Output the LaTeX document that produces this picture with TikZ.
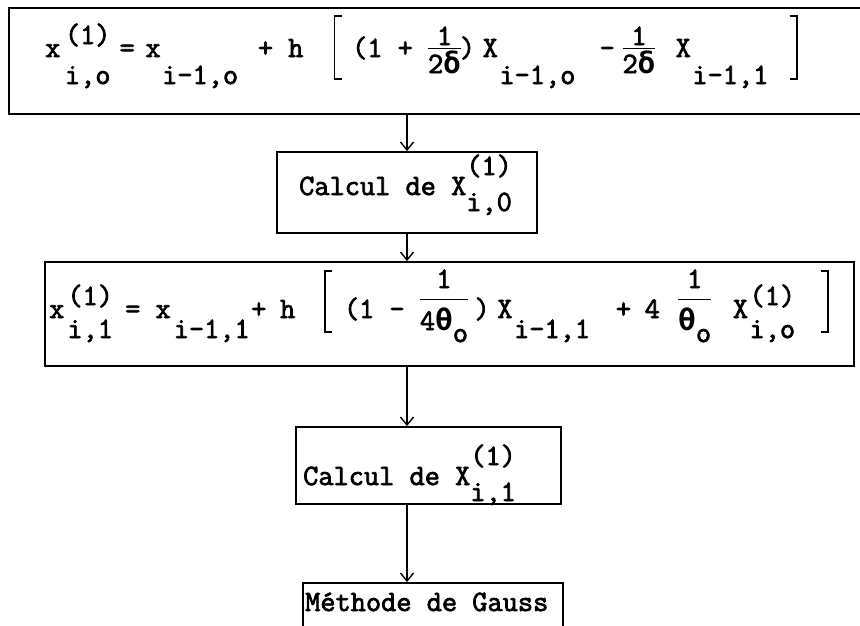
\documentclass[tikz,border=0pt]{standalone}
\usepackage{fontspec}
\usetikzlibrary{arrows.meta}
\newfontfamily\tw{Latin Modern Mono}[FakeBold=2.5]
\newfontfamily\grk{DejaVu Sans Mono}
\newcommand\gd{{\grk\bfseries δ}}
\newcommand\gt{{\grk\bfseries θ}}
\newlength\supup \newlength\subdn
\newlength\frup \newlength\frbar \newlength\frdn
\newcommand\ud[2]{\rlap{\raisebox{\supup}{#1}}\raisebox{-\subdn}{#2}}
\newcommand\lw[1]{\raisebox{-\subdn}{#1}}
% place #2 at #1 character widths from the start of the line
\newcommand\at[2]{\rlap{\hspace*{#1\wd9}#2}}
\newcommand\fr[2]{\setbox0\hbox{#2}\rlap{\makebox[\wd0]{\raisebox{\frup}{#1}}}\rlap{\rule[\frbar]{\wd0}{1.2pt}}\raisebox{-\frdn}{\box0}}
\newcommand\lbrk[2]{\vrule height #1 depth #2 width 1.6pt\kern-1.6pt\vrule height #1 depth -\dimexpr#1-1.6pt\relax width 8pt\kern-8pt\vrule height -\dimexpr#2-1.6pt\relax depth #2 width 8pt}
\newcommand\rbrk[2]{\vrule height #1 depth -\dimexpr#1-1.6pt\relax width 8pt\kern-8pt\vrule height -\dimexpr#2-1.6pt\relax depth #2 width 8pt\kern-1.6pt\vrule height #1 depth #2 width 1.6pt}
\tikzset{
  box/.style={draw, line width=1.8pt, inner sep=0pt},
  txt/.style={inner sep=0pt, anchor=base west, font={\fontsize{29.5}{35}\selectfont\tw}},
  arr/.style={line width=1.4pt, -{Straight Barb[length=8pt,width=13pt]}}
}
\begin{document}
\begin{tikzpicture}[x=1pt,y=-1pt]
\fill[white] (0,0) rectangle (860,625);
\useasboundingbox (0,0) rectangle (860,625);
% boxes
\node[box, minimum width=871pt, minimum height=106pt] (b1) at (444.5,61) {};
\node[box, minimum width=260pt, minimum height=81pt] (b2) at (407,192.5) {};
\node[box, minimum width=809pt, minimum height=104pt] (b3) at (449.5,314) {};
\node[box, minimum width=265pt, minimum height=77pt] (b4) at (428.5,465.5) {};
\node[box, minimum width=260pt, minimum height=77pt] (b5) at (433,621.5) {};
% first formula
\node[txt] (f1) at (45,57) {\setbox9\hbox{x}\setlength\supup{13pt}\setlength\subdn{27pt}%
  \setlength\frup{12pt}\setlength\frbar{8pt}\setlength\frdn{16pt}%
  \at{0}{x}\at{1.3}{\ud{(1)}{i,o}}\at{4.9}{=}\at{6.6}{x}\at{7.7}{\lw{i-1,o}}\at{14}{+}\at{16}{h}%
  \at{19}{\lbrk{42pt}{23pt}}\at{20.2}{(1}\at{23.2}{+}\at{25.2}{\fr{1}{2\gd}}%
  \at{27.3}{)}\at{28.8}{X}\at{29.9}{\lw{i-1,o}}\at{36.5}{-}\at{38}{\fr{1}{2\gd}}%
  \at{41.5}{X}\at{42.6}{\lw{i-1,1}}\at{49}{\rbrk{42pt}{23pt}}\hspace*{50\wd9}};
\node[txt] (c1) at (299,195) {\setlength\supup{20pt}\setlength\subdn{16pt}Calcul de X\ud{(1)}{i,0}};
% second formula
\node[txt] (f2) at (49,318) {\setbox9\hbox{x}\setlength\supup{13pt}\setlength\subdn{20pt}%
  \setlength\frup{30pt}\setlength\frbar{18pt}\setlength\frdn{12pt}%
  \at{0}{x}\at{1.2}{\ud{(1)}{i,1}}\at{5}{=}\at{7}{x}\at{8.2}{\lw{i-1,1}}\at{13.3}{+}\at{15.2}{h}%
  \at{18.1}{\lbrk{48pt}{15pt}}\at{19.4}{(1}\at{22.4}{-}%
  \at{24.4}{\fr{1}{4\gt\raisebox{-12pt}{o}}}\at{28}{)}\at{29.5}{X}\at{30.6}{\lw{i-1,1}}%
  \at{37.3}{+}\at{39.2}{4}\at{41.4}{\fr{1}{\gt\raisebox{-12pt}{o}}}%
  \at{45}{X}\at{46.1}{\ud{(1)}{i,o}}\at{50.8}{\rbrk{48pt}{15pt}}\hspace*{51.5\wd9}};
\node[txt] (c2) at (303,485) {\setlength\supup{20pt}\setlength\subdn{16pt}Calcul de X\ud{(1)}{i,1}};
\node[txt] (g) at (305,611) {Méthode de Gauss};
% arrows
\draw[arr] (b2.north |- b1.south) -- (b2.north);
\draw[arr] (b2.south) -- (b2.south |- b3.north);
\draw[arr] (b2.south |- b3.south) -- (b2.south |- b4.north);
\draw[arr] (b2.south |- b4.south) -- (b2.south |- b5.north);
\end{tikzpicture}
\end{document}
